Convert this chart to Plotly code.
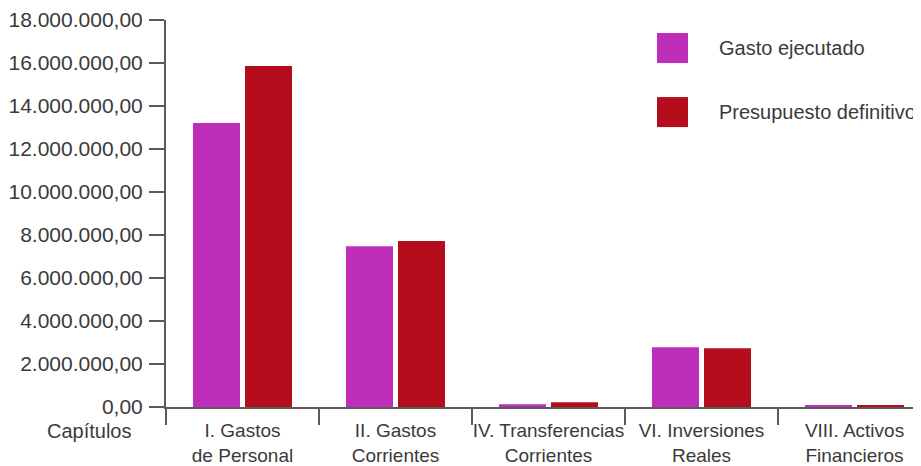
import plotly.graph_objects as go

categories = ["I. Gastos<br>de Personal", "II. Gastos<br>Corrientes",
              "IV. Transferencias<br>Corrientes", "VI. Inversiones<br>Reales",
              "VIII. Activos<br>Financieros"]
gasto_ejecutado = [13210000, 7480000, 125000, 2780000, 80000]
presupuesto_definitivo = [15860000, 7720000, 220000, 2730000, 80000]
series_names = ["Gasto ejecutado", "Presupuesto definitivo"]
tick_values = [0, 2e6, 4e6, 6e6, 8e6, 10e6, 12e6, 14e6, 16e6, 18e6]
tick_labels = ["0,00", "2.000.000,00", "4.000.000,00", "6.000.000,00", "8.000.000,00",
               "10.000.000,00", "12.000.000,00", "14.000.000,00", "16.000.000,00",
               "18.000.000,00"]
colors = ["#BD2EBA", "#B40E1C"]

FONT = "Liberation Sans"
TXT = "#3a3a3a"
AX = "#5a5a5a"

fig = go.Figure()
fig.add_trace(go.Bar(x=categories, y=gasto_ejecutado, name=series_names[0],
                     marker_color=colors[0], marker_line_width=0))
fig.add_trace(go.Bar(x=categories, y=presupuesto_definitivo, name=series_names[1],
                     marker_color=colors[1], marker_line_width=0))

W, H = 921, 466
OFF = 8  # page body margin offset
# target plot area in screen pixels
SX0, SX1, SY0, SY1 = 166, 921, 20, 406.7
L = SX0 - OFF
T = SY0 - OFF
R = W - (SX1 - OFF)
B = H - (SY1 - OFF)
pw, ph = SX1 - SX0, SY1 - SY0

def px(x):
    return (x - SX0) / pw

def py(y):
    return (SY1 - y) / ph

fig.update_layout(
    width=W, height=H,
    margin=dict(l=L, r=R, t=T, b=B, pad=0, autoexpand=False),
    paper_bgcolor="white", plot_bgcolor="white",
    barmode="group", bargap=0.32, bargroupgap=0.096,
    showlegend=False,
    font=dict(family=FONT, size=19, color=TXT),
)
fig.update_xaxes(
    type="category", automargin=False,
    range=[-0.5, -0.5 + pw / 153.0],
    tickson="boundaries", tickangle=0,
    showgrid=False, zeroline=False,
    showline=True, linecolor=AX, linewidth=2,
    ticks="outside", ticklen=16, tickwidth=2, tickcolor=AX,
    tickfont=dict(family=FONT, size=19, color=TXT),
    ticklabelstandoff=5,
)
fig.update_yaxes(
    automargin=False,
    range=[0, 18e6],
    tickmode="array", tickvals=tick_values, ticktext=tick_labels,
    showgrid=False, zeroline=False,
    showline=True, linecolor=AX, linewidth=2,
    ticks="outside", ticklen=15, tickwidth=2, tickcolor=AX,
    tickfont=dict(family=FONT, size=21, color=TXT),
    ticklabelstandoff=2,
)

# legend drawn as shapes + text
leg_y = [(33, 63, 48), (97, 127, 112)]
for (y0, y1, yc), c, name in zip(leg_y, colors, series_names):
    fig.add_shape(type="rect", xref="paper", yref="paper",
                  x0=px(657), x1=px(688), y0=py(y1), y1=py(y0),
                  fillcolor=c, line_width=0)
    fig.add_annotation(xref="paper", yref="paper", x=px(717), y=py(yc),
                       xanchor="left", yanchor="middle", text=name, showarrow=False,
                       font=dict(family=FONT, size=20, color=TXT))

fig.add_annotation(xref="paper", yref="paper", x=px(134), y=py(431),
                   xanchor="right", yanchor="middle", text="Capítulos", showarrow=False,
                   font=dict(family=FONT, size=20, color=TXT))

fig.write_html("out.html")
